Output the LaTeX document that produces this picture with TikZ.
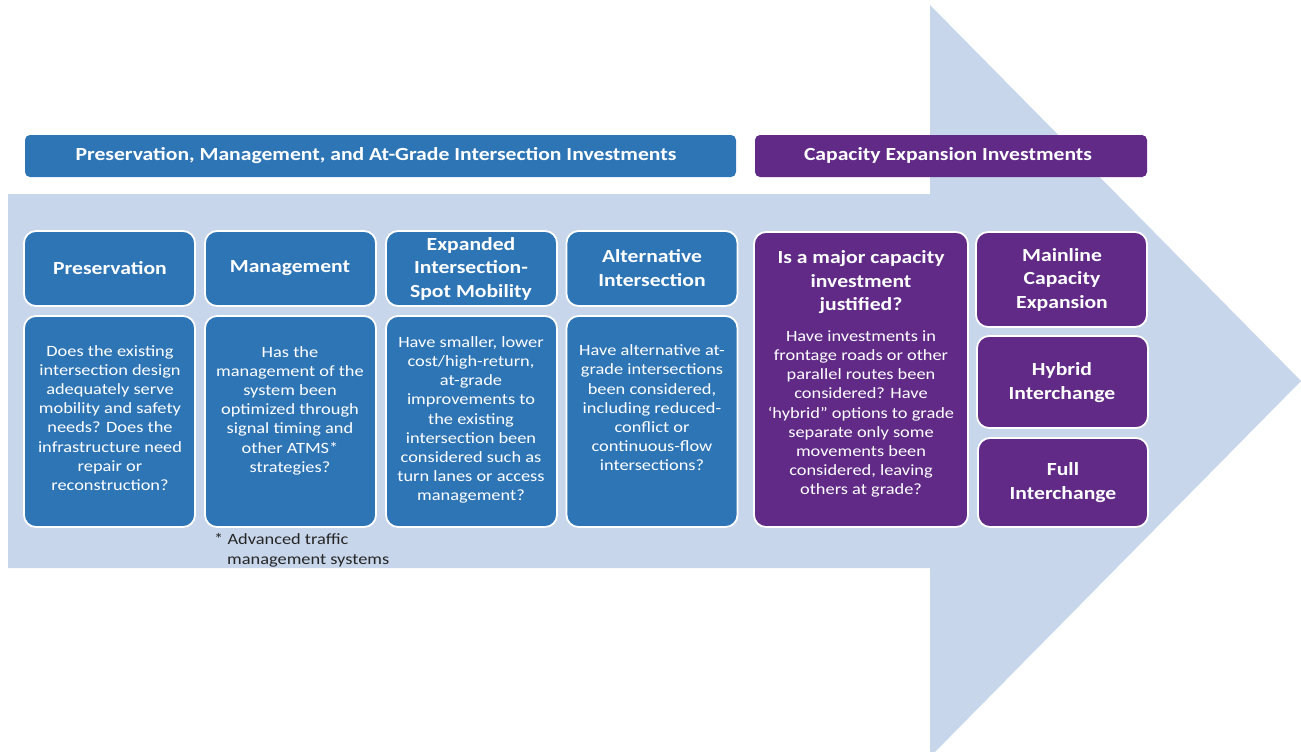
\documentclass[tikz,border=0pt]{standalone}
\usepackage{fontspec}
\setmainfont{Carlito}[FakeStretch=1.17]
\definecolor{arrowC}{HTML}{C7D6EB}
\definecolor{blueC}{HTML}{2E75B6}
\definecolor{purpC}{HTML}{612A87}
\definecolor{noteC}{HTML}{262626}
\tikzset{
  bx/.style={draw=white, line width=1.8pt, rounded corners=12pt, fill=#1, inner sep=0pt},
  hdbox/.style={rounded corners=5pt, fill=#1, inner sep=0pt, minimum height=42pt},
  txt/.style={text=white, align=center, inner sep=0pt, font=\fontsize{15.7}{19.2}\selectfont},
  hd/.style={text=white, align=center, inner sep=0pt, font=\bfseries\fontsize{18.5}{23.5}\selectfont},
  toptxt/.style={text=white, align=center, inner sep=0pt, font=\bfseries\fontsize{18.5}{22}\selectfont},
}
\begin{document}
\begin{tikzpicture}[x=1pt,y=-1pt]
\useasboundingbox (0,0) rectangle (1301,752);
\clip (0,0) rectangle (1301,752);
% big arrow
\fill[arrowC] (8,194) -- (930,194) -- (930,5) -- (1301,381) -- (930,757) -- (930,568) -- (8,568) -- cycle;
% headers
\node[hdbox=blueC, minimum width=711pt] (hblue) at (380.5,156) {};
\node[toptxt] (hbluet) at (376,156) {Preservation, Management, and At-Grade Intersection Investments};
\node[hdbox=purpC, minimum width=392pt] (hpurp) at (951,156) {};
\node[toptxt] (hpurpt) at (948,155.5) {Capacity Expansion Investments};
% row 1
\node[bx=blueC, minimum width=171pt, minimum height=75pt] (b1) at (109.5,268.5) {};
\node[bx=blueC, minimum width=171pt, minimum height=75pt] (b2) at (290.5,268.5) {};
\node[bx=blueC, minimum width=171pt, minimum height=75pt] (b3) at (471.5,268.5) {};
\node[bx=blueC, minimum width=171pt, minimum height=75pt] (b4) at (652,268.5) {};
\node[hd] (t1) at (110,268) {Preservation};
\node[hd] (t2) at (290,268) {Management};
\node[hd] (t3) at (471,268.5) {Expanded\\Intersection-\\Spot Mobility};
\node[hd] (t4) at (652,268) {Alternative\\Intersection};
% row 2
\node[bx=blueC, minimum width=171pt, minimum height=211pt] (c1) at (109.5,421.5) {};
\node[bx=blueC, minimum width=171pt, minimum height=211pt] (c2) at (290.5,421.5) {};
\node[bx=blueC, minimum width=171pt, minimum height=211pt] (c3) at (471.5,421.5) {};
\node[bx=blueC, minimum width=171pt, minimum height=211pt] (c4) at (652,421.5) {};
\node[txt] (d1) at (110,418) {Does the existing\\intersection design\\adequately serve\\mobility and safety\\needs? Does the\\infrastructure need\\repair or\\reconstruction?};
\node[txt] (d2) at (290,410.5) {Has the\\management of the\\system been\\optimized through\\signal timing and\\other ATMS*\\strategies?};
\node[txt] (d3) at (471,420) {Have smaller, lower\\cost/high-return,\\at-grade\\improvements to\\the existing\\intersection been\\considered such as\\turn lanes or access\\management?};
\node[txt] (d4) at (652,408) {Have alternative at-\\grade intersections\\been considered,\\including reduced-\\conflict or\\continuous-flow\\intersections?};
% footnote
\node[anchor=west, align=left, inner sep=0pt, text=noteC, font=\fontsize{15.7}{19.8}\selectfont] (note) at (214,550) {*~Advanced traffic\\\hspace*{13pt}management systems};
% purple
\node[bx=purpC, minimum width=214pt, minimum height=295pt] (p1) at (861,379.5) {};
\node[hd] (pt) at (861,282.5) {Is a major capacity\\investment\\justified?};
\node[txt] (pd) at (861,414) {Have investments in\\frontage roads or other\\parallel routes been\\considered? Have\\‘hybrid” options to grade\\separate only some\\movements been\\considered, leaving\\others at grade?};
\node[bx=purpC, minimum width=171pt, minimum height=95pt] (m1) at (1061.5,279.5) {};
\node[bx=purpC, minimum width=171pt, minimum height=92pt] (m2) at (1062.5,382) {};
\node[bx=purpC, minimum width=170pt, minimum height=89pt] (m3) at (1063,482.5) {};
\node[hd] (mt1) at (1062,279.5) {Mainline\\Capacity\\Expansion};
\node[hd] (mt2) at (1062,382.5) {Hybrid\\Interchange};
\node[hd] (mt3) at (1063,482.5) {Full\\Interchange};
\end{tikzpicture}
\end{document}
